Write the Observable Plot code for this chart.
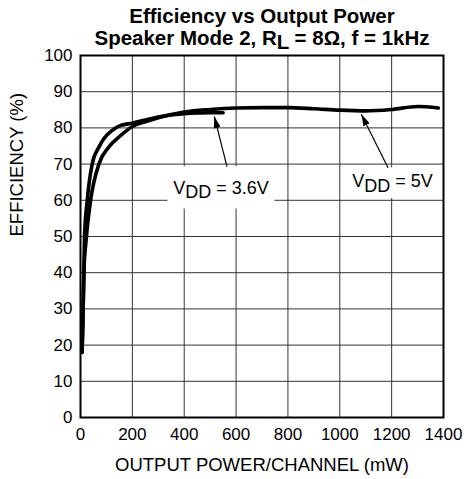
<!DOCTYPE html>
<html>
<head>
<meta charset="utf-8">
<script src="https://cdn.jsdelivr.net/npm/d3@7"></script>
<script src="https://cdn.jsdelivr.net/npm/@observablehq/plot@0.6"></script>
<style>
  html, body { margin: 0; padding: 0; background: #fff; }
  #chart { width: 464px; height: 479px; }
</style>
</head>
<body>
<div id="chart"></div>
<script>
// ---- data ----
const power36 = [6, 9, 13, 15.5, 26, 45, 71, 90, 120, 155, 200, 250, 300, 350, 400, 450, 500, 550];
const eff36   = [18, 26, 40, 50, 60, 70, 74.7, 77, 79.2, 80.7, 81.3, 82.2, 83, 83.6, 83.9, 84.1, 84.2, 84.2];

const power5 = [6, 9, 13, 23, 39, 71, 109, 155, 200, 250, 300, 400, 500, 600, 700, 800, 900, 1000, 1100, 1200, 1300, 1380];
const eff5   = [18, 26, 40, 50, 60, 70, 74.7, 77.9, 80.4, 81.7, 82.8, 84.4, 85.1, 85.5, 85.6, 85.6, 85.3, 84.9, 84.7, 85.1, 85.9, 85.5];

const xTicks = [0, 200, 400, 600, 800, 1000, 1200, 1400];
const yTicks = [0, 10, 20, 30, 40, 50, 60, 70, 80, 90, 100];

const titleLines = ["Efficiency vs Output Power", "Speaker Mode 2, R_{L} = 8Ω, f = 1kHz"];
const xLabel = "OUTPUT POWER/CHANNEL (mW)";
const yLabel = "EFFICIENCY (%)";

// annotations (data coordinates)
const labels = [
  {text: "V_{DD} = 3.6V", x: 542, y: 63.4, bx1: 337, bx2: 750, by1: 57.6, by2: 69.3, ax1: 565, ay1: 69.3, ax2: 516, ay2: 83.2},
  {text: "V_{DD} = 5V",   x: 1203, y: 65.2, bx1: 1025, bx2: 1381, by1: 60.5, by2: 69.0, ax1: 1186, ay1: 69.0, ax2: 1083, ay2: 83.8}
];

const series = [
  ...power36.map((p, i) => ({power: p, eff: eff36[i], s: "3.6V"})),
  ...power5.map((p, i) => ({power: p, eff: eff5[i], s: "5V"}))
];

const FONT = "'Liberation Sans', Arial, Helvetica, sans-serif";

const filledArrow = (color) =>
  d3.create("svg:marker")
    .attr("viewBox", "-12 -3.5 12 7")
    .attr("markerUnits", "userSpaceOnUse")
    .attr("markerWidth", 12)
    .attr("markerHeight", 7)
    .attr("refX", 0)
    .attr("refY", 0)
    .attr("orient", "auto")
    .attr("fill", color)
    .attr("stroke", "none")
    .call(m => m.append("path").attr("d", "M0,0L-12,-3.5L-12,3.5Z"))
    .node();

const chart = Plot.plot({
  width: 464,
  height: 479,
  marginLeft: 80,
  marginRight: 21,
  marginTop: 55,
  marginBottom: 62,
  style: {fontFamily: FONT, fontSize: "17px", background: "#fff", color: "#000", overflow: "visible"},
  x: {domain: [0, 1400], ticks: xTicks, tickFormat: d => String(d), tickSize: 0, tickPadding: 10, label: null},
  y: {domain: [0, 100], ticks: yTicks, tickFormat: d => String(d), tickSize: 0, tickPadding: 8, label: null},
  marks: [
    Plot.ruleX(xTicks, {stroke: "#333", strokeWidth: 1}),
    Plot.ruleY(yTicks, {stroke: "#333", strokeWidth: 1}),
    Plot.rect(labels, {x1: "bx1", x2: "bx2", y1: "by1", y2: "by2", fill: "#fff"}),
    Plot.line(series, {x: "power", y: "eff", z: "s", stroke: "#000", strokeWidth: 3.6, curve: "monotone-x", strokeLinecap: "round", strokeLinejoin: "round"}),
    Plot.frame({stroke: "#000", strokeWidth: 2}),
    Plot.link(labels, {x1: "ax1", y1: "ay1", x2: "ax2", y2: "ay2", stroke: "#000", strokeWidth: 1.2, markerEnd: filledArrow}),
    Plot.text(labels, {x: "x", y: "y", text: "text", fontSize: 18, fill: "#000", textAnchor: "middle"}),
    Plot.text([titleLines[0]], {frameAnchor: "top", dy: -33, lineAnchor: "bottom", fontSize: 20.5, fontWeight: "bold", fill: "#000"}),
    Plot.text([titleLines[1]], {frameAnchor: "top", dy: -11, lineAnchor: "bottom", fontSize: 20.5, fontWeight: "bold", fill: "#000"}),
    Plot.text([xLabel], {frameAnchor: "bottom", dy: 53, lineAnchor: "bottom", fontSize: 18.5, fill: "#000"}),
    Plot.text([yLabel], {frameAnchor: "left", dx: -63, rotate: -90, fontSize: 18.5, fill: "#000"})
  ]
});

// turn _{...} into subscripts
d3.select(chart).selectAll("text").each(function () {
  const t = this.textContent;
  if (!t.includes("_{")) return;
  const parts = t.split(/(_\{[^}]*\})/).filter(p => p.length);
  this.textContent = "";
  let shifted = false;
  for (const p of parts) {
    const m = p.match(/^_\{(.*)\}$/);
    const ts = d3.select(this).append("tspan");
    if (m) { ts.text(m[1]).attr("dy", "0.24em"); shifted = true; }
    else { ts.text(p); if (shifted) { ts.attr("dy", "-0.24em"); shifted = false; } }
  }
});

document.getElementById("chart").append(chart);
</script>
</body>
</html>
